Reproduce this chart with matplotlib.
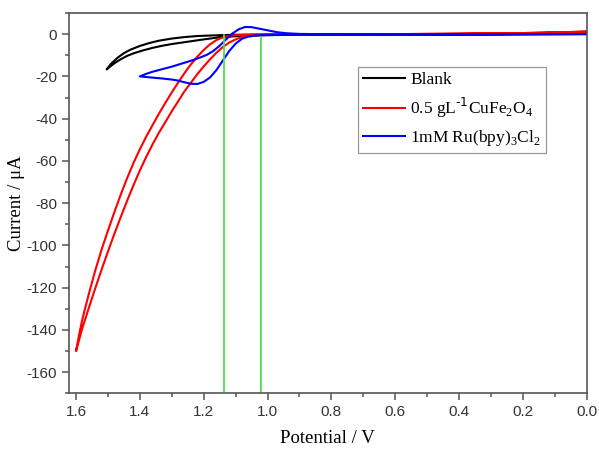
import numpy as np
import matplotlib.pyplot as plt
from matplotlib.ticker import MultipleLocator

plt.rcParams['axes.unicode_minus'] = False

# cyclic voltammograms (potential in V, current in uA)
# each loop: forward scan 0 -> vertex, then the return scan vertex -> 0
blank_fwd_E = [0.0, 0.5, 0.9, 1.0, 1.05, 1.1, 1.15, 1.2, 1.25, 1.3, 1.33, 1.36, 1.39, 1.42,
               1.44, 1.46, 1.48, 1.50, 1.504]
blank_fwd_I = [0.3, 0.0, -0.3, -0.5, -0.7, -1.0, -1.5, -2.5, -3.6, -4.7, -5.5, -6.5, -7.7, -9.1,
               -10.3, -11.9, -13.8, -16.2, -16.7]
blank_rev_E = [1.504, 1.49, 1.47, 1.45, 1.43, 1.40, 1.37, 1.34, 1.30, 1.26, 1.22, 1.15, 1.1,
               1.0, 0.5, 0.0]
blank_rev_I = [-16.7, -14.0, -11.2, -9.0, -7.4, -5.6, -4.2, -3.1, -2.1, -1.4, -0.9, -0.5, -0.3,
               -0.2, 0.0, 0.3]

cufe_fwd_E = [0.0, 0.1, 0.2, 0.4, 0.6, 0.9, 0.95, 1.00, 1.04, 1.06, 1.08, 1.10, 1.12, 1.14,
              1.16, 1.18, 1.20, 1.22, 1.24, 1.26, 1.28, 1.30, 1.32, 1.34, 1.36, 1.38, 1.40,
              1.42, 1.44, 1.46, 1.48, 1.50, 1.52, 1.54, 1.56, 1.58, 1.59, 1.60]
cufe_fwd_I = [1.2, 0.8, 0.5, 0.2, 0.0, -0.1, -0.15, -0.3, -0.5, -0.8, -1.4, -2.5, -4.0, -6.1,
              -8.8, -11.9, -15.3, -18.9, -23.0, -27.0, -31.8, -36.5, -41.6, -46.6, -52.1, -58.1,
              -64.5, -71.5, -78.9, -86.6, -94.6, -102.9, -111.5, -120.4, -129.6, -139.0,
              -144.5, -150.0]
cufe_rev_E = [1.60, 1.59, 1.58, 1.56, 1.54, 1.52, 1.50, 1.48, 1.46, 1.44, 1.42, 1.40, 1.38,
              1.36, 1.34, 1.32, 1.30, 1.28, 1.26, 1.24, 1.22, 1.20, 1.18, 1.16, 1.14, 1.12,
              1.10, 1.05, 1.00, 0.6, 0.4, 0.2, 0.1, 0.0]
cufe_rev_I = [-150.0, -142.0, -134.8, -123.0, -112.0, -102.0, -93.0, -84.3, -76.0, -68.2,
              -61.0, -54.5, -48.5, -43.0, -37.6, -32.5, -27.6, -22.9, -18.4, -14.3, -10.7,
              -7.5, -4.8, -2.8, -1.5, -0.8, -0.5, -0.2, -0.1, 0.0, 0.2, 0.5, 0.8, 1.2]

ru_fwd_E = [0.0, 0.5, 0.9, 0.98, 1.02, 1.04, 1.06, 1.08, 1.10, 1.12, 1.14, 1.16, 1.18, 1.20,
            1.22, 1.24, 1.26, 1.28, 1.30, 1.33, 1.36, 1.40]
ru_fwd_I = [0.0, -0.3, -0.3, -0.4, -0.5, -0.7, -1.2, -2.2, -4.5, -8.0, -12.5, -17.0, -20.5,
            -22.6, -23.6, -23.5, -22.8, -22.0, -21.5, -21.0, -20.6, -20.0]
ru_rev_E = [1.40, 1.38, 1.36, 1.33, 1.30, 1.27, 1.24, 1.21, 1.19, 1.17, 1.15, 1.13, 1.11,
            1.09, 1.07, 1.05, 1.03, 1.00, 0.97, 0.94, 0.9, 0.8, 0.5, 0.0]
ru_rev_I = [-20.0, -18.8, -17.8, -16.6, -15.4, -14.0, -12.6, -11.0, -9.8, -8.0, -5.5, -2.5,
            0.3, 2.3, 3.4, 3.3, 2.7, 1.8, 0.9, 0.4, 0.1, -0.1, -0.2, 0.0]

# the two marked potentials
marks_E = [1.136, 1.022]
marks_top = [-0.5, -1.5]

labels = ['Blank',
          r'0.5 gL$^{\text{-1}}$CuFe$_{\mathregular{2}}$O$_{\mathregular{4}}$',
          r'1mM Ru(bpy)$_{\mathregular{3}}$Cl$_{\mathregular{2}}$']

fig = plt.figure(figsize=(5.99, 4.51), dpi=100)
ax = fig.add_axes([0.1152, 0.1279, 0.9795 - 0.1152, 0.9712 - 0.1279])

ax.plot(blank_fwd_E + blank_rev_E, blank_fwd_I + blank_rev_I, color='black', lw=1.5,
        label=labels[0], solid_joinstyle='round')
ax.plot(cufe_fwd_E + cufe_rev_E, cufe_fwd_I + cufe_rev_I, color='#ff0000', lw=1.5,
        label=labels[1], solid_joinstyle='round')
ax.plot(ru_fwd_E + ru_rev_E, ru_fwd_I + ru_rev_I, color='#0000ff', lw=1.5,
        label=labels[2], solid_joinstyle='round')

for e, top in zip(marks_E, marks_top):
    ax.plot([e, e], [-170, top], color='#4cdf4c', lw=1.3)

ax.set_xlim(1.622, 0.0)
ax.set_ylim(-170, 10)
ax.xaxis.set_minor_locator(MultipleLocator(0.1))
ax.yaxis.set_major_locator(MultipleLocator(20))
ax.yaxis.set_minor_locator(MultipleLocator(10))
ax.set_xticks(np.arange(0, 1.61, 0.2))
ax.set_xticklabels(['%.1f' % v for v in np.arange(0, 1.61, 0.2)])

for s in ax.spines.values():
    s.set_color('#555555')
    s.set_linewidth(1.2)
ax.tick_params(which='both', direction='out', color='#555555', width=1.1,
               top=False, right=False)
ax.tick_params(which='major', length=5, labelsize=11, labelcolor='#333333')
ax.tick_params(which='minor', length=3)
for t in ax.get_xticklabels() + ax.get_yticklabels():
    t.set_family('Liberation Sans')

ax.set_xlabel('Potential / V', family='Liberation Serif', fontsize=13.5, labelpad=8)
ax.set_ylabel('Current / μA', family='Liberation Serif', fontsize=13.5, labelpad=1)

leg = ax.legend(loc='upper left', bbox_to_anchor=(0.558, 0.858), borderaxespad=0,
                fancybox=False, framealpha=1, edgecolor='#999999',
                prop={'family': 'Liberation Serif', 'size': 12.5},
                handlelength=2.4, handletextpad=0.3, labelspacing=0.45,
                borderpad=0.3)
leg.get_frame().set_linewidth(0.9)

plt.savefig('out.png', dpi=100)
